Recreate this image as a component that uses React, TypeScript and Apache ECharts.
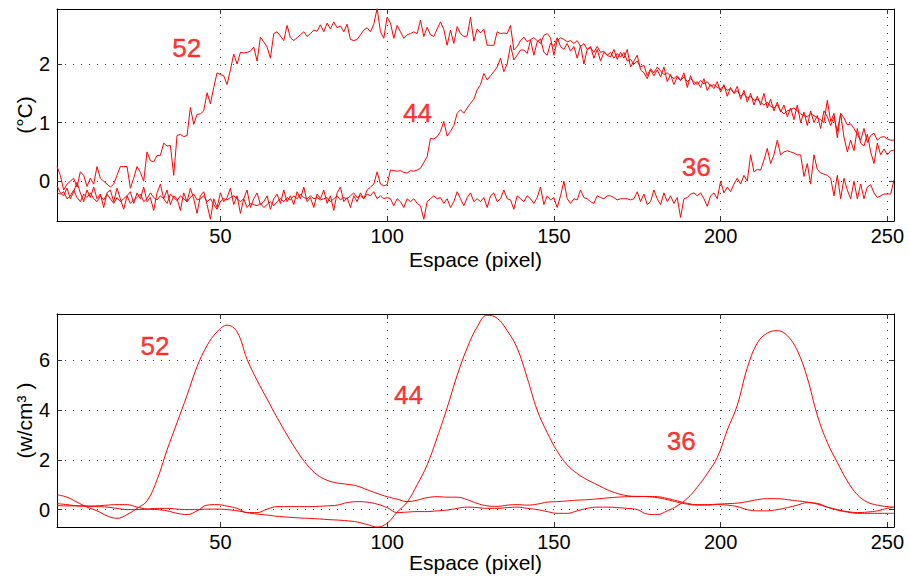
import React, { useEffect, useRef } from "react";
import * as echarts from "echarts";

// ---------- data ----------
// top panel: temperature profiles (°C), one value per pixel x = 1..252
const temp52: number[] = [
  0.25, 0.1, -0.15, -0.05, 0.0, 0.05, -0.1, 0.16, 0.1, -0.09,
  0.05, -0.05, 0.25, 0.05, 0.0, -0.05, -0.1, -0.05, 0.1, 0.25,
  0.25, 0.25, -0.12, 0.05, 0.25, 0.15, 0.0, 0.5, 0.35, 0.33,
  0.44, 0.44, 0.65, 0.6, 0.61, 0.1, 0.78, 0.8, 0.76, 0.78,
  1.26, 0.97, 1.14, 1.15, 1.2, 1.51, 1.32, 1.6, 1.85, 1.82,
  1.8, 1.65, 1.9, 2.17, 2.0, 2.2, 2.19, 2.2, 2.22, 2.29,
  2.05, 2.46, 2.38, 2.29, 2.1, 2.52, 2.55, 2.48, 2.4, 2.66,
  2.45, 2.4, 2.45, 2.5, 2.55, 2.47, 2.52, 2.58, 2.56, 2.67,
  2.55, 2.7, 2.6, 2.72, 2.62, 2.65, 2.55, 2.68, 2.42, 2.4,
  2.42, 2.5, 2.58, 2.62, 2.55, 2.68, 2.95, 2.55, 2.44, 2.8,
  2.7, 2.44, 2.66, 2.55, 2.44, 2.5, 2.52, 2.55, 2.52, 2.75,
  2.47, 2.63, 2.5, 2.47, 2.6, 2.72, 2.59, 2.32, 2.58, 2.35,
  2.64, 2.52, 2.47, 2.48, 2.8, 2.39, 2.6, 2.53, 2.6, 2.32,
  2.32, 2.32, 2.55, 2.52, 2.53, 2.52, 2.66, 2.24, 2.3, 2.4,
  2.46, 2.38, 2.42, 2.45, 2.4, 2.35, 2.49, 2.52, 2.45, 2.15,
  2.4, 2.45, 2.42, 2.38, 2.4, 2.35, 2.4, 2.3, 2.35, 2.25,
  2.28, 2.2, 2.3, 2.2, 2.22, 2.15, 2.2, 2.1, 2.18, 2.12,
  2.2, 2.05, 2.08, 2.0, 2.05, 1.95, 1.98, 1.8, 1.92, 1.85,
  1.95, 1.88, 1.82, 1.85, 1.8, 1.75, 1.8, 1.72, 1.78, 1.7,
  1.75, 1.7, 1.65, 1.72, 1.66, 1.7, 1.62, 1.65, 1.6, 1.58,
  1.62, 1.55, 1.58, 1.5, 1.55, 1.45, 1.5, 1.42, 1.45, 1.38,
  1.4, 1.35, 1.3, 1.35, 1.28, 1.25, 1.3, 1.2, 1.15, 1.2,
  1.22, 1.25, 1.2, 1.15, 1.12, 1.1, 1.15, 1.12, 1.08, 1.05,
  1.0, 1.38, 1.02, 1.16, 0.74, 1.16, 1.08, 0.96, 0.98, 0.9,
  0.8, 0.7, 0.9, 0.66, 0.78, 0.82, 0.7, 0.75, 0.76, 0.72,
  0.7, 0.7,
];

const temp44: number[] = [
  -0.08, -0.2, -0.25, -0.12, -0.3, -0.18, -0.02, -0.2, -0.35, -0.15,
  -0.28, -0.1, -0.3, -0.22, -0.45, -0.2, -0.15, -0.35, -0.12, -0.3,
  -0.48, -0.25, -0.18, -0.38, -0.2, -0.3, -0.1, -0.35, -0.28, -0.5,
  -0.2, -0.05, -0.3, -0.15, -0.4, -0.25, -0.3, -0.5, -0.2, -0.35,
  -0.12, -0.3, -0.55, -0.25, -0.18, -0.4, -0.65, -0.3, -0.45, -0.2,
  -0.35, -0.28, -0.12, -0.4, -0.25, -0.55, -0.3, -0.15, -0.45, -0.3,
  -0.2, -0.4, -0.35, -0.25, -0.48, -0.3, -0.22, -0.38, -0.15, -0.35,
  -0.25, -0.4, -0.18, -0.3, -0.1, -0.35, -0.28, -0.45, -0.22, -0.3,
  -0.15, -0.38, -0.25, -0.5, -0.2, -0.1, -0.35, -0.28, -0.45, -0.25,
  -0.35, -0.2, -0.3, -0.15, -0.1, -0.05, 0.16, -0.05, -0.08, -0.06,
  0.19, 0.18, 0.17, 0.18, 0.15, 0.14, 0.18, 0.17, 0.19, 0.22,
  0.32, 0.42, 0.73, 0.72, 0.76, 0.85, 1.02, 0.77, 0.85, 0.95,
  1.16, 1.22, 1.16, 1.25, 1.33, 1.4, 1.56, 1.65, 1.84, 1.73,
  1.8, 1.87, 1.95, 2.1, 1.87, 2.0, 2.32, 2.07, 2.15, 2.24,
  2.24, 2.18, 2.41, 2.15, 2.38, 2.43, 2.2, 2.15, 2.36, 2.3,
  2.45, 2.3, 2.25, 2.35, 2.22, 2.3, 2.1, 2.32, 2.0, 2.25,
  2.3, 2.1, 2.25, 2.05, 2.2, 2.15, 2.12, 2.25, 2.08, 2.2,
  2.1, 2.25, 1.95, 2.05, 2.15, 1.9, 1.85, 1.75, 1.9, 1.8,
  1.9, 1.78, 1.95, 1.7, 1.82, 1.65, 1.78, 1.72, 1.85, 1.6,
  1.8, 1.65, 1.7, 1.6, 1.75, 1.55, 1.65, 1.58, 1.7, 1.52,
  1.65, 1.45, 1.6, 1.5, 1.62, 1.4, 1.55, 1.35, 1.5, 1.3,
  1.45, 1.3, 1.5, 1.25, 1.4, 1.2, 1.35, 1.18, 1.3, 1.1,
  1.25, 1.05, 1.3, 1.0, 1.18, 0.95, 1.2, 1.0, 1.12, 0.9,
  1.2, 1.1, 0.95, 1.1, 0.85, 1.15, 0.75, 0.5, 0.7, 0.52,
  0.9, 0.65, 0.6, 0.8, 0.5, 0.3, 0.65, 0.45, 0.55, 0.45,
  0.52, 0.53,
];

const temp36: number[] = [
  -0.2, -0.22, -0.18, -0.3, -0.25, -0.15, -0.28, -0.35, -0.22, -0.28,
  -0.2, -0.3, -0.35, -0.25, -0.32, -0.22, -0.3, -0.38, -0.28, -0.35,
  -0.3, -0.25, -0.38, -0.32, -0.28, -0.22, -0.35, -0.3, -0.2, -0.28,
  -0.32, -0.25, -0.3, -0.38, -0.22, -0.28, -0.33, -0.25, -0.3, -0.35,
  -0.28, -0.22, -0.32, -0.3, -0.25, -0.35, -0.3, -0.4, -0.48, -0.35,
  -0.3, -0.32, -0.28, -0.25, -0.3, -0.35, -0.3, -0.45, -0.38, -0.4,
  -0.42, -0.38, -0.45, -0.4, -0.35, -0.42, -0.35, -0.3, -0.35, -0.28,
  -0.32, -0.25, -0.3, -0.22, -0.28, -0.3, -0.25, -0.3, -0.28, -0.32,
  -0.3, -0.28, -0.35, -0.3, -0.25, -0.32, -0.28, -0.3, -0.25, -0.2,
  -0.28, -0.25, -0.3, -0.22, -0.25, -0.18, -0.3, -0.25, -0.3, -0.28,
  -0.3, -0.42, -0.3, -0.35, -0.45, -0.3, -0.35, -0.3, -0.38, -0.42,
  -0.65, -0.35, -0.3, -0.25, -0.3, -0.28, -0.38, -0.3, -0.45, -0.35,
  -0.18, -0.3, -0.42, -0.28, -0.2, -0.35, -0.3, -0.35, -0.28, -0.45,
  -0.25, -0.2, -0.35, -0.3, -0.15, -0.3, -0.32, -0.48, -0.25, -0.3,
  -0.35, -0.25, -0.3, -0.38, -0.28, -0.1, -0.4, -0.25, -0.32, -0.28,
  -0.45, -0.25, 0.0, -0.3, -0.38, -0.3, -0.32, -0.15, -0.28, -0.3,
  -0.35, -0.38, -0.25, -0.28, -0.3, -0.25, -0.25, -0.28, -0.32, -0.3,
  -0.3, -0.3, -0.32, -0.3, -0.18, -0.35, -0.22, -0.4, -0.35, -0.15,
  -0.3, -0.4, -0.2, -0.35, -0.25, -0.38, -0.28, -0.62, -0.3, -0.28,
  -0.22, -0.2, -0.25, -0.2, -0.3, -0.43, -0.25, -0.2, -0.3, 0.0,
  -0.2, -0.1, -0.18, -0.05, 0.05, -0.05, 0.1, 0.0, 0.45, 0.16,
  0.2, 0.19, 0.36, 0.56, 0.3, 0.45, 0.7, 0.45, 0.5, 0.52,
  0.5, 0.48, 0.45, 0.45, 0.08, 0.3, -0.05, 0.45, 0.2, 0.14,
  0.12, 0.1, 0.05, -0.25, 0.1, -0.3, 0.05, -0.15, -0.3, 0.0,
  -0.3, -0.05, -0.3, -0.1, -0.06, -0.2, -0.28, -0.25, -0.22, -0.22,
  -0.22, 0.02,
];

// bottom panel: power density (w/cm³), sampled positions
const powerX: number[] = [
  1, 4, 7, 10, 13, 16, 19, 22, 25, 28, 31, 34, 37, 40, 43, 46, 49, 52, 55, 58,
  61, 64, 67, 70, 73, 76, 79, 82, 85, 88, 91, 94, 97, 100, 103, 106, 109, 112, 115, 118,
  121, 124, 127, 130, 133, 136, 139, 142, 145, 148, 151, 154, 157, 160, 163, 166, 169, 172, 175, 178,
  181, 184, 187, 190, 193, 196, 199, 202, 205, 208, 211, 214, 217, 220, 223, 226, 229, 232, 235, 238,
  241, 244, 247, 250, 252,
];

const power52: number[] = [
  0.6, 0.5, 0.3, 0.1, -0.05, -0.25, -0.35, -0.2, 0.05, 0.35, 1.2, 2.4, 3.5, 4.6, 5.75, 6.6, 7.15, 7.42, 7.15, 6.05,
  5.2, 4.45, 3.7, 3.0, 2.35, 1.8, 1.4, 1.18, 1.07, 1.02, 0.95, 0.8, 0.65, 0.52, 0.42, 0.32, 0.38, 0.48, 0.52, 0.5,
  0.5, 0.4, 0.25, 0.15, 0.13, 0.18, 0.2, 0.18, 0.22, 0.3, 0.32, 0.35, 0.38, 0.4, 0.43, 0.47, 0.5, 0.52, 0.53, 0.52,
  0.48, 0.4, 0.3, 0.22, 0.18, 0.18, 0.2, 0.18, 0.12, 0.0, -0.05, -0.05, 0.0, 0.08, 0.18, 0.28, 0.25, 0.1, -0.02, -0.1,
  -0.15, -0.15, -0.15, -0.15, -0.15,
];

const power44: number[] = [
  0.16, 0.15, 0.15, 0.14, 0.12, 0.1, 0.05, 0.0, 0.0, 0.02, 0.05, 0.05, 0.02, 0.0, 0.0, 0.02, 0.02, 0.0, -0.05, -0.12,
  -0.18, -0.22, -0.27, -0.3, -0.33, -0.35, -0.37, -0.4, -0.42, -0.45, -0.5, -0.6, -0.7, -0.55, -0.1, 0.3, 1.0, 1.8, 2.9, 4.1,
  5.4, 6.5, 7.35, 7.82, 7.7, 7.2, 6.5, 5.3, 4.0, 3.1, 2.35, 1.8, 1.45, 1.2, 1.0, 0.8, 0.65, 0.56, 0.53, 0.53,
  0.52, 0.45, 0.35, 0.25, 0.2, 0.2, 0.22, 0.24, 0.26, 0.32, 0.4, 0.44, 0.44, 0.4, 0.35, 0.3, 0.22, 0.1, 0.0, -0.08,
  -0.12, -0.1, -0.05, 0.05, 0.1,
];

const power36: number[] = [
  0.24, 0.2, 0.15, 0.14, 0.15, 0.18, 0.2, 0.2, 0.1, 0.02, 0.0, -0.05, -0.15, -0.2, -0.05, 0.18, 0.2, 0.14, 0.05, -0.12,
  -0.12, 0.02, 0.12, 0.12, 0.12, 0.12, 0.13, 0.15, 0.18, 0.28, 0.32, 0.3, 0.22, 0.08, -0.12, -0.1, -0.08, -0.08, -0.05, -0.02,
  0.05, 0.1, 0.08, 0.05, 0.05, 0.08, 0.1, 0.05, 0.0, -0.08, -0.15, -0.15, -0.05, 0.05, 0.1, 0.1, 0.08, 0.05, 0.0, -0.18,
  -0.2, -0.05, 0.15, 0.45, 0.9, 1.45, 2.1, 3.2, 4.2, 5.7, 6.7, 7.1, 7.2, 7.0, 6.4, 5.3, 3.8, 2.7, 1.9, 1.15,
  0.6, 0.3, 0.18, 0.12, 0.1,
];

// annotation labels [x, y, text]
const tempLabels: [number, number, string][] = [
  [39.9, 2.27, "52"],
  [109.1, 1.16, "44"],
  [192.7, 0.25, "36"],
];
const powerLabels: [number, number, string][] = [
  [30.4, 6.58, "52"],
  [106.4, 4.6, "44"],
  [188.2, 2.75, "36"],
];

const xTicks: number[] = [50, 100, 150, 200, 250];
const tempTicks: number[] = [0, 1, 2];
const powerTicks: number[] = [0, 2, 4, 6];

const xTitle = "Espace (pixel)";
const tempTitle = "(°C)";
const powerTitle = "(w/cm³ )";

// ---------- chart ----------
const FONT = "'Liberation Sans', Arial, Helvetica, sans-serif";
const RED = "#ff0000";

function makeX(gridIndex: number, position: "bottom" | "top", withLabels: boolean, nameGap: number): any {
  return {
    type: "value",
    gridIndex,
    position,
    min: 1,
    max: 252,
    axisLine: { show: true, onZero: false, lineStyle: { color: "#000", width: 1 } },
    axisTick: {
      show: true,
      inside: true,
      length: 5,
      customValues: xTicks,
      lineStyle: { color: "#333", width: 1 },
    },
    axisLabel: {
      show: withLabels,
      customValues: xTicks,
      color: "#000",
      fontSize: 20,
      fontFamily: FONT,
      margin: 5,
    },
    splitLine: withLabels
      ? { show: true, lineStyle: { color: "#333", width: 1, type: [1, 7] } }
      : { show: false },
    name: withLabels ? xTitle : "",
    nameLocation: "middle",
    nameGap,
    nameMoveOverlap: false,
    nameTextStyle: { color: "#000", fontSize: 21, fontFamily: FONT },
  };
}

function makeY(
  gridIndex: number,
  position: "left" | "right",
  min: number,
  max: number,
  ticks: number[],
  title: string,
  withLabels: boolean
): any {
  return {
    type: "value",
    gridIndex,
    position,
    min,
    max,
    axisLine: { show: true, onZero: false, lineStyle: { color: "#000", width: 1 } },
    axisTick: {
      show: true,
      inside: true,
      length: 5,
      customValues: ticks,
      lineStyle: { color: "#333", width: 1 },
    },
    axisLabel: {
      show: withLabels,
      customValues: ticks,
      color: "#000",
      fontSize: 20,
      fontFamily: FONT,
      margin: 7,
    },
    splitLine: withLabels
      ? { show: true, lineStyle: { color: "#333", width: 1, type: [1, 7] } }
      : { show: false },
    name: withLabels ? title : "",
    nameLocation: "middle",
    nameGap: 22,
    nameRotate: 90,
    nameMoveOverlap: false,
    nameTextStyle: { color: "#000", fontSize: 21, fontFamily: FONT },
  };
}

function lineSeries(xi: number, yi: number, data: number[][], smooth: boolean): any {
  return {
    type: "line",
    xAxisIndex: xi,
    yAxisIndex: yi,
    data,
    showSymbol: false,
    symbol: "none",
    smooth: smooth ? 0.4 : false,
    lineStyle: { color: RED, width: 1 },
    silent: true,
  };
}

function labelSeries(xi: number, yi: number, labels: [number, number, string][]): any {
  return {
    type: "scatter",
    xAxisIndex: xi,
    yAxisIndex: yi,
    data: labels.map((l) => ({ value: [l[0], l[1]], name: l[2] })),
    symbolSize: 1,
    itemStyle: { color: "rgba(0,0,0,0)" },
    silent: true,
    label: {
      show: true,
      position: "inside",
      formatter: (p: any) => p.name,
      color: RED,
      fontSize: 26,
      fontFamily: FONT,
      textBorderColor: RED,
      textBorderWidth: 0.4,
    },
  };
}

export default function App() {
  const ref = useRef<HTMLDivElement>(null);

  useEffect(() => {
    if (!ref.current) return;
    const chart = echarts.init(ref.current, undefined, { renderer: "svg" });

    const top = (arr: number[]) => arr.map((v, i) => [i + 1, v]);
    const bottom = (arr: number[]) => arr.map((v, i) => [powerX[i], v]);

    chart.setOption({
      animation: false,
      backgroundColor: "#fff",
      grid: [
        { left: 57, top: 9, width: 837, height: 212 },
        { left: 57, top: 314, width: 837, height: 213 },
      ],
      xAxis: [
        makeX(0, "bottom", true, 28),
        makeX(0, "top", false, 28),
        makeX(1, "bottom", true, 25),
        makeX(1, "top", false, 25),
      ],
      yAxis: [
        makeY(0, "left", -0.68, 2.94, tempTicks, tempTitle, true),
        makeY(0, "right", -0.68, 2.94, tempTicks, tempTitle, false),
        makeY(1, "left", -0.7, 7.87, powerTicks, powerTitle, true),
        makeY(1, "right", -0.7, 7.87, powerTicks, powerTitle, false),
      ],
      series: [
        lineSeries(0, 0, top(temp52), false),
        lineSeries(0, 0, top(temp44), false),
        lineSeries(0, 0, top(temp36), false),
        lineSeries(2, 2, bottom(power52), true),
        lineSeries(2, 2, bottom(power44), true),
        lineSeries(2, 2, bottom(power36), true),
        labelSeries(0, 0, tempLabels),
        labelSeries(2, 2, powerLabels),
      ],
    });

    return () => chart.dispose();
  }, []);

  return (
    <div
      ref={ref}
      style={{ position: "fixed", left: 0, top: 0, width: 909, height: 579, background: "#fff" }}
    />
  );
}
